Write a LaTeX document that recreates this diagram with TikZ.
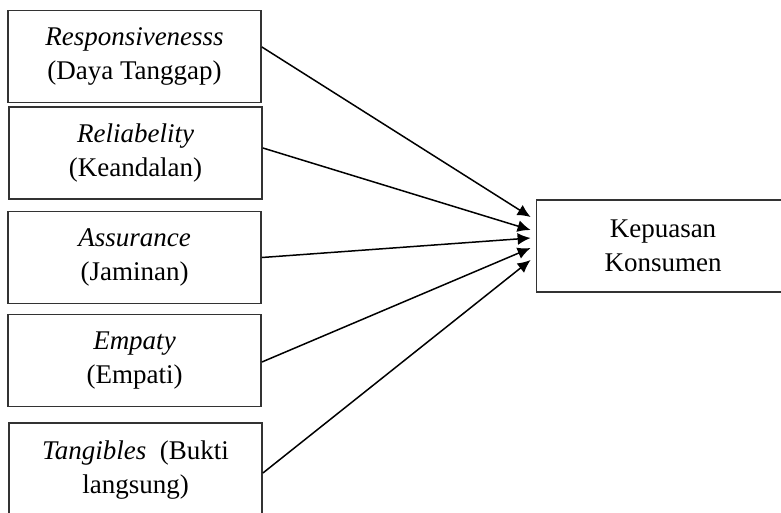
\documentclass[tikz,border=0pt]{standalone}
\usepackage{fontspec}
\setmainfont{Liberation Serif}
\usetikzlibrary{arrows.meta,positioning}
\tikzset{
  varbox/.style={draw=black!80, line width=1.8pt, minimum width=253pt, minimum height=92pt,
    align=center, inner sep=0pt, font=\fontsize{27}{34}\selectfont},
  konektor/.style={line width=1.5pt, -{Latex[length=13pt,width=12pt]}}
}

\begin{document}
\begin{tikzpicture}[x=1pt,y=-1pt]
			%%%%% START %%%%%
			\clip (0,0) rectangle (781,512);
			
			\node[varbox] (resp) at (134.5,56.5) {\textit{Responsivenesss}\\(Daya Tanggap)};
			\node[varbox] (reli) at (135.5,153) {\textit{Reliabelity}\\(Keandalan)};
			\node[varbox] (assu) at (134.5,257.5) {\textit{Assurance}\\(Jaminan)};
			\node[varbox] (empa) at (134.5,360.5) {\textit{Empaty}\\(Empati)};
			\node[varbox, minimum height=94pt] (tang) at (135.5,470) {\textit{Tangibles}\ \ (Bukti\\langsung)};
			
			\node[varbox] (kepu) at (663,246) {Kepuasan\\Konsumen};
			
			\coordinate (t1) at ([xshift=-5pt,yshift=29pt]kepu.west);
			\coordinate (t2) at ([xshift=-5pt,yshift=16pt]kepu.west);
			\coordinate (t3) at ([xshift=-5pt,yshift=8pt]kepu.west);
			\coordinate (t4) at ([xshift=-5pt,yshift=-2pt]kepu.west);
			\coordinate (t5) at ([xshift=-5pt,yshift=-14pt]kepu.west);
			
			\draw[konektor] ([yshift=9.5pt]resp.east) -- (t1);
			\draw[konektor] ([yshift=5pt]reli.east) -- (t2);
			\draw[konektor] (assu.east) -- (t3);
			\draw[konektor] ([yshift=-1.5pt]empa.east) -- (t4);
			\draw[konektor] ([yshift=-3pt]tang.east) -- (t5);
			
			%%%%% END %%%%%
\end{tikzpicture}
\end{document}
